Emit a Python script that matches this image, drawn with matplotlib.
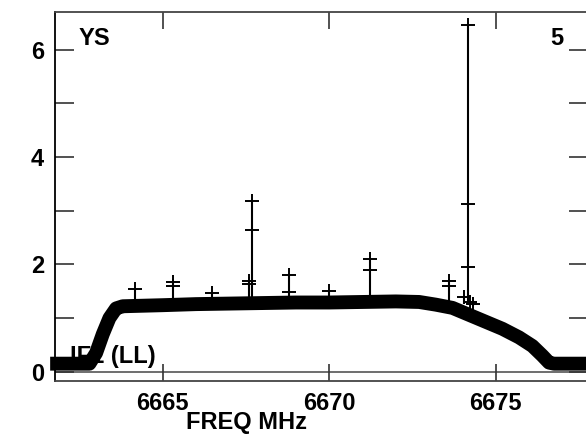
import matplotlib
matplotlib.use("Agg")
import matplotlib.pyplot as plt

plt.rcParams['font.family'] = ['Liberation Sans', 'DejaVu Sans']

# Bandpass level (centre of the dense channel band)
band_freq = [6661.62, 6662.8, 6663.0, 6663.2, 6663.4, 6663.6, 6663.8, 6665.0, 6666.0,
             6667.0, 6668.0, 6669.0, 6670.0, 6671.0, 6672.0, 6672.7, 6673.2, 6673.7,
             6674.2, 6674.7, 6675.2, 6675.7, 6676.1, 6676.4, 6676.6, 6676.75, 6677.9]
band_level = [0.15, 0.15, 0.35, 0.70, 1.00, 1.18, 1.22, 1.24, 1.26,
              1.27, 1.28, 1.29, 1.29, 1.30, 1.31, 1.30, 1.25, 1.19,
              1.06, 0.93, 0.80, 0.64, 0.48, 0.30, 0.17, 0.15, 0.15]

# Spiky channels: frequency, base level and the '+' marked values
spike_freq = [6664.17, 6665.30, 6666.49, 6667.60, 6667.69, 6668.80, 6670.00,
              6671.23, 6673.59, 6674.16, 6674.06, 6674.23, 6674.33]
spike_base = [1.28, 1.30, 1.32, 1.33, 1.33, 1.33, 1.34,
              1.36, 1.30, 1.25, 1.26, 1.24, 1.22]
spike_marks = [[1.55], [1.68, 1.60], [1.46], [1.69, 1.63], [3.18, 2.65],
               [1.81, 1.49], [1.50], [2.10, 1.89], [1.69, 1.60],
               [6.46, 3.12, 1.95], [1.39], [1.30], [1.26]]

xticks = [6665, 6670, 6675]
yticks = [0, 2, 4, 6]
yminor = [1, 3, 5]

FS = 17

fig = plt.figure(figsize=(5.86, 4.34), dpi=100)
ax = fig.add_axes([0.0944, 0.1221, 0.9090, 0.8510])

ax.set_xlim(6661.775, 6677.77)
ax.set_ylim(-0.173, 6.71)

ax.axhline(0, color='#555555', lw=1.2, zorder=1)

# label partly hidden by the band
ax.text(0.0276, 0.0487, 'IF1 (LL)', transform=ax.transAxes, fontsize=FS,
        fontweight='bold', ha='left', va='baseline', zorder=2)

ax.plot(band_freq, band_level, color='black', lw=10, solid_joinstyle='round',
        solid_capstyle='butt', zorder=3, clip_on=False)

for f, b, m in zip(spike_freq, spike_base, spike_marks):
    ax.vlines(f, b, max(m), color='black', lw=1.5, zorder=4)
    ax.plot([f] * len(m), m, ls='none', marker='+', ms=9.5, mew=1.4,
            color='black', zorder=4)

ax.set_xticks(xticks)
ax.set_xticklabels([str(t) for t in xticks])
ax.set_yticks(yticks)
ax.set_yticklabels([str(t) for t in yticks])
ax.set_yticks(yminor, minor=True)
ax.tick_params(axis='both', which='both', direction='in', color='#333333',
               width=1.2, labelsize=FS)
ax.tick_params(axis='y', which='both', length=14, pad=8, left=True, right=True)
ax.tick_params(axis='x', which='both', length=12.5, pad=8, top=True, bottom=True)
for lab in ax.get_xticklabels() + ax.get_yticklabels():
    lab.set_fontweight('bold')

for sp in ax.spines.values():
    sp.set_color('#444444')
    sp.set_linewidth(1.3)
ax.spines['left'].set_color('black')

ax.text(0.0445, 0.91, 'YS', transform=ax.transAxes, fontsize=FS,
        fontweight='bold', ha='left', va='baseline')
ax.text(0.953, 0.91, '5', transform=ax.transAxes, fontsize=FS,
        fontweight='bold', ha='right', va='baseline')

fig.text(247 / 586, 1 - 429 / 434, 'FREQ MHz', fontsize=FS, fontweight='bold',
         ha='center', va='baseline')

fig.savefig('out.png', dpi=100)
